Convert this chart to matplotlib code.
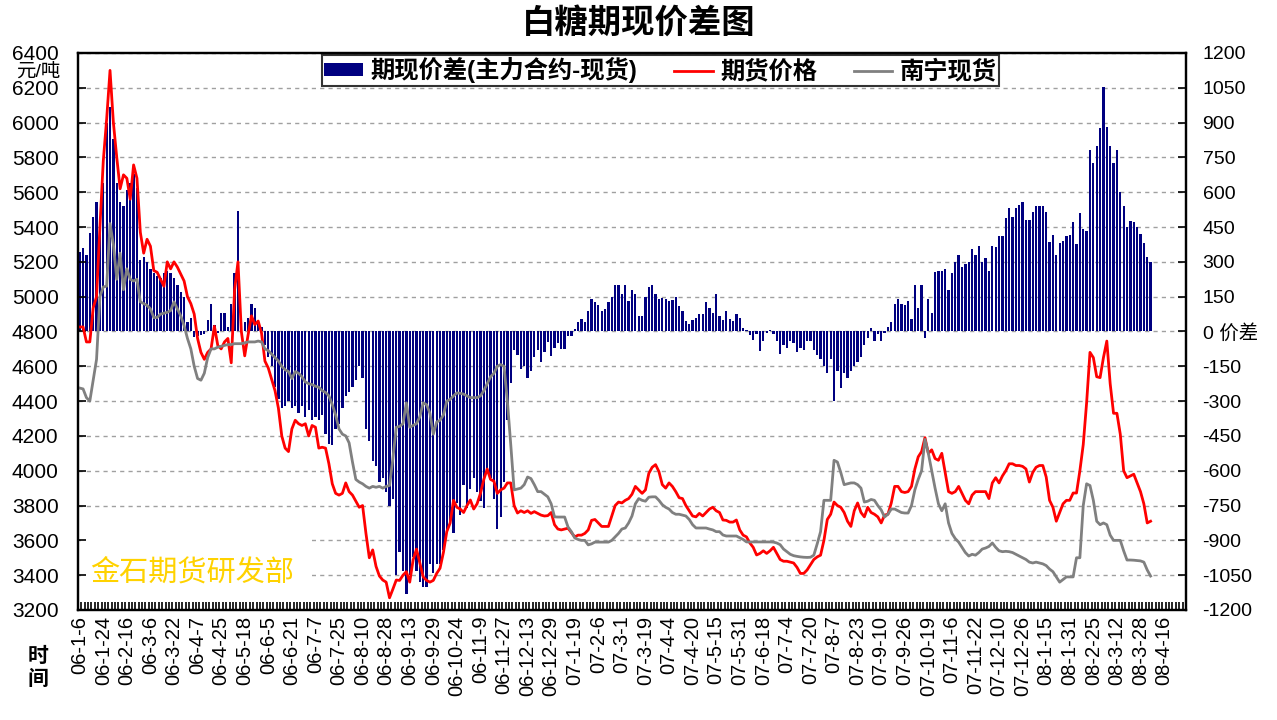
import matplotlib.pyplot as plt
from matplotlib.font_manager import FontProperties
from matplotlib.patches import Patch, Rectangle
from matplotlib.lines import Line2D

plt.rcParams['font.family'] = ['Liberation Sans', 'Noto Sans CJK SC']

# time axis: one label every 7 records
date_labels = ['06-1-6', '06-1-24', '06-2-16', '06-3-6', '06-3-22', '06-4-7', '06-4-25', '06-5-18',
               '06-6-5', '06-6-21', '06-7-7', '06-7-25', '06-8-10', '06-8-28', '06-9-13', '06-9-29',
               '06-10-24', '06-11-9', '06-11-27', '06-12-13', '06-12-29', '07-1-19', '07-2-6', '07-3-1',
               '07-3-19', '07-4-4', '07-4-20', '07-5-15', '07-5-31', '07-6-18', '07-7-4', '07-7-20',
               '07-8-7', '07-8-23', '07-9-10', '07-9-26', '07-10-19', '07-11-6', '07-11-22', '07-12-10',
               '07-12-26', '08-1-15', '08-1-31', '08-2-25', '08-3-12', '08-3-28', '08-4-16']
label_step = 7
n_slots = 329

# 期现价差 (主力合约 - 现货), right axis
spread = [343, 360, 330, 425, 493, 560, 450, 640, 900, 967,
          830, 640, 560, 540, 610, 640, 680, 620, 310, 320,
          300, 270, 250, 240, 230, 250, 260, 250, 230, 200,
          170, 150, 40, 60, -25, -20, -15, -10, 50, 120,
          30, -5, 80, 80, 20, 120, 250, 520, 10, 40,
          60, 120, 100, 40, 20, -60, -110, -150, -240, -290,
          -330, -320, -300, -330, -320, -350, -320, -370, -340, -380,
          -370, -380, -360, -440, -485, -490, -420, -400, -330, -280,
          -260, -240, -210, -150, -200, -420, -470, -560, -580, -650,
          -630, -690, -750, -720, -1050, -950, -1030, -1130, -1050, -970,
          -1030, -1080, -1100, -1100, -1000, -1040, -1000, -1000, -940, -860,
          -820, -870, -740, -790, -660, -760, -680, -630, -690, -730,
          -760, -610, -630, -720, -850, -800, -650, -380, -220, -80,
          -100, -160, -150, -200, -170, -110, -80, -133, -90, -45,
          -105, -70, -50, -75, -76, -20, -20, 10, 39, 53,
          40, 89, 140, 125, 115, 90, 95, 125, 150, 200,
          200, 160, 200, 130, 180, 160, 67, 67, 150, 190,
          200, 160, 140, 145, 140, 130, 135, 150, 110, 90,
          45, 32, 50, 60, 75, 75, 125, 100, 80, 160,
          65, 50, 90, 55, 45, 75, 60, 15, 5, -15,
          -35, -10, -83, -40, -5, 8, -12, -40, -98, -60,
          -70, -40, -50, -90, -70, -80, -40, -40, -80, -100,
          -120, -150, -180, -120, -300, -170, -245, -180, -200, -170,
          -150, -130, -110, -60, -30, 15, -40, -10, -40, -5,
          20, 40, 120, 140, 120, 115, 130, 55, 200, 100,
          200, -30, 140, 80, 255, 260, 260, 270, 180, 250,
          300, 330, 280, 290, 300, 355, 330, 370, 300, 315,
          260, 370, 365, 410, 410, 490, 530, 495, 530, 545,
          560, 480, 480, 515, 540, 540, 540, 515, 385, 415,
          330, 380, 390, 410, 415, 470, 375, 510, 440, 435,
          780, 724, 800, 875, 1055, 880, 800, 725, 780, 600,
          540, 450, 475, 470, 450, 420, 380, 320, 300]

# 期货价格, left axis
futures = [4826, 4826, 4740, 4740, 4935, 5000, 5400, 5780, 6020, 6300,
           6000, 5800, 5620, 5700, 5680, 5560, 5757, 5680, 5370, 5250,
           5330, 5290, 5150, 5140, 5100, 5060, 5200, 5160, 5200, 5170,
           5130, 5090, 5000, 4960, 4900, 4760, 4680, 4640, 4680, 4700,
           4830, 4720, 4700, 4740, 4760, 4620, 5040, 5200, 4800, 4660,
           4780, 4890, 4840, 4860, 4790, 4630, 4590, 4525, 4460, 4360,
           4200, 4130, 4110, 4240, 4290, 4270, 4260, 4270, 4200, 4260,
           4250, 4130, 4135, 4130, 4040, 3925, 3870, 3860, 3870, 3930,
           3880, 3860, 3825, 3790, 3800, 3640, 3500, 3545, 3450, 3395,
           3372, 3360, 3270, 3320, 3372, 3370, 3400, 3420, 3360, 3487,
           3550, 3470, 3390, 3370, 3360, 3370, 3410, 3440, 3530, 3650,
           3700, 3830, 3790, 3780, 3760, 3800, 3832, 3780, 3810, 3870,
           3950, 4010, 3950, 3940, 3870, 3890, 3900, 3930, 3930, 3800,
           3757, 3770, 3760, 3770, 3755, 3765, 3755, 3745, 3740, 3742,
           3760, 3690, 3665, 3660, 3665, 3670, 3645, 3620, 3630, 3630,
           3640, 3660, 3715, 3720, 3700, 3680, 3680, 3680, 3740, 3800,
           3820, 3815, 3830, 3840, 3865, 3910, 3890, 3870, 3890, 3985,
           4020, 4035, 3995, 3920, 3900, 3930, 3910, 3880, 3845, 3840,
           3800, 3770, 3740, 3735, 3755, 3740, 3760, 3780, 3790, 3770,
           3760, 3717, 3715, 3705, 3705, 3717, 3660, 3630, 3620, 3585,
           3560, 3516, 3525, 3540, 3525, 3540, 3560, 3525, 3490, 3480,
           3480, 3475, 3470, 3445, 3410, 3410, 3430, 3460, 3490, 3505,
           3515, 3600, 3720, 3750, 3820, 3800, 3790, 3760, 3710, 3680,
           3770, 3815, 3760, 3735, 3790, 3760, 3750, 3735, 3700, 3745,
           3750, 3815, 3910, 3910, 3880, 3875, 3880, 3910, 4010, 4080,
           4110, 4190, 4100, 4120, 4070, 4060, 4100, 3990, 3880, 3870,
           3880, 3910, 3870, 3830, 3810, 3860, 3880, 3880, 3880, 3880,
           3840, 3930, 3960, 3930, 3970, 4000, 4040, 4040, 4030, 4030,
           4025, 4010, 3935, 3990, 4020, 4030, 4030, 3964, 3830, 3790,
           3710, 3760, 3810, 3830, 3830, 3872, 3872, 4000, 4150, 4390,
           4680, 4650, 4540, 4535, 4650, 4745, 4500, 4330, 4330, 4210,
           4000, 3960, 3970, 3980, 3930, 3880, 3810, 3700, 3710]

# 南宁现货, left axis
spot = [4475, 4470, 4420, 4400, 4520, 4640, 5000, 5056, 5060, 5420,
        5300, 5100, 5250, 5040, 5160, 5100, 5090, 5100, 4970, 4960,
        4950, 4930, 4880, 4880, 4900, 4905, 4910, 4920, 4970, 4930,
        4890, 4834, 4760, 4700, 4600, 4530, 4520, 4560, 4650, 4700,
        4700, 4710, 4715, 4720, 4725, 4725, 4730, 4730, 4730, 4735,
        4740, 4740, 4740, 4745, 4740, 4700, 4690, 4670, 4650, 4630,
        4600, 4580, 4570, 4530, 4570, 4560, 4540, 4510, 4500, 4495,
        4485, 4480, 4460, 4450, 4430, 4380, 4320, 4240, 4210, 4200,
        4160, 4050, 3950, 3935, 3925, 3910, 3900, 3910, 3905, 3910,
        3900, 3910, 3915, 4070, 4250, 4255, 4270, 4390, 4250, 4260,
        4270, 4310, 4390, 4380, 4330, 4210, 4280, 4290, 4320, 4400,
        4410, 4430, 4447, 4445, 4440, 4430, 4420, 4420, 4420, 4430,
        4460, 4500, 4540, 4560, 4600, 4610, 4600, 4400, 4150, 3890,
        3895, 3900, 3920, 3964, 3955, 3920, 3880, 3880, 3865, 3850,
        3810, 3735, 3734, 3734, 3734, 3677, 3650, 3614, 3605, 3600,
        3600, 3574, 3580, 3590, 3590, 3590, 3590, 3590, 3600, 3620,
        3640, 3665, 3671, 3700, 3740, 3810, 3840, 3830, 3825, 3848,
        3850, 3850, 3830, 3805, 3790, 3780, 3760, 3750, 3750, 3745,
        3740, 3720, 3690, 3671, 3671, 3671, 3671, 3665, 3660, 3650,
        3650, 3631, 3625, 3625, 3625, 3625, 3615, 3605, 3591, 3591,
        3591, 3591, 3591, 3591, 3591, 3591, 3590, 3585, 3575, 3550,
        3535, 3520, 3512, 3508, 3505, 3503, 3502, 3503, 3515, 3580,
        3650, 3830, 3830, 3830, 4060, 4050, 3990, 3920, 3925, 3930,
        3930, 3920, 3900, 3820, 3825, 3835, 3830, 3800, 3775, 3734,
        3750, 3780, 3780, 3770, 3760, 3757, 3757, 3800, 3890, 3950,
        4000, 4180, 4100, 4000, 3900, 3810, 3770, 3810, 3700, 3640,
        3610, 3590, 3560, 3530, 3510, 3520, 3515, 3530, 3550, 3556,
        3565, 3585, 3560, 3540, 3535, 3537, 3535, 3530, 3520, 3510,
        3500, 3490, 3475, 3470, 3475, 3470, 3465, 3455, 3435, 3420,
        3390, 3360, 3375, 3390, 3390, 3390, 3500, 3500, 3800, 3925,
        3915, 3830, 3710, 3690, 3700, 3690, 3630, 3600, 3600, 3600,
        3540, 3487, 3487, 3486, 3484, 3482, 3475, 3430, 3395]

left_ticks = list(range(3200, 6401, 200))
right_ticks = list(range(-1200, 1201, 150))

x = list(range(len(spread)))

fig = plt.figure(figsize=(12.77, 7.2), dpi=100)
ax2 = fig.add_axes([0.0611, 0.1528, 0.8676, 0.7736])   # bars, right scale (drawn behind)
ax = ax2.twinx()                                         # price lines, left scale
ax.yaxis.tick_left()
ax2.yaxis.tick_right()
ax.set_zorder(ax2.get_zorder() + 1)
ax.patch.set_visible(False)

# spread bars
ax2.bar(x, spread, width=0.68, color='#000080', zorder=2.2)
ax2.set_ylim(-1200, 1200)
ax2.set_yticks(right_ticks)
ax2.set_yticklabels(['0 价差' if v == 0 else str(v) for v in right_ticks], fontsize=14)
ax2.grid(axis='y', color='#A0A0A0', linestyle=(0, (3, 3)), linewidth=1.0)
ax2.set_axisbelow(True)

# price lines
ax.plot(x, futures, color='#FF0000', linewidth=2.0)
ax.plot(x, spot, color='#808080', linewidth=2.0)
ax.set_ylim(3200, 6400)
ax.set_yticks(left_ticks)
ax.set_yticklabels([str(v) for v in left_ticks], fontsize=15)

# category axis
ax2.set_xlim(-0.5, n_slots - 0.5)
ax2.set_xticks([i * label_step for i in range(len(date_labels))])
ax2.set_xticklabels(date_labels, rotation=90, fontsize=14.5, va='top')
ax2.set_xticks([i - 0.5 for i in range(n_slots + 1)], minor=True)
ax2.tick_params(axis='x', which='major', length=0, pad=4)
ax2.tick_params(axis='x', which='minor', direction='in', length=6, width=1.2, color='black')
ax.tick_params(axis='y', direction='in', length=6, width=1.2, pad=14)
ax2.tick_params(axis='y', direction='in', length=6, width=1.2, pad=12)

for a in (ax, ax2):
    for s in a.spines.values():
        s.set_linewidth(1.6)
        s.set_color('black')

# watermark on a white panel that hides the grid behind it
ax2.add_patch(Rectangle((0.003, 0.017), 0.208, 0.118, transform=ax2.transAxes,
                        facecolor='white', edgecolor='none', zorder=1.8))
ax2.text(0.103, 0.068, '金石期货研发部', transform=ax2.transAxes, fontsize=21,
         color='#FFD200', ha='center', va='center', zorder=1.9)

# legend
handles = [Patch(facecolor='#000080', edgecolor='none'),
           Line2D([0], [0], color='#FF0000', linewidth=2.0),
           Line2D([0], [0], color='#808080', linewidth=2.0)]
names = ['期现价差(主力合约-现货)', '期货价格', '南宁现货']
leg = ax.legend(handles, names, loc='upper left', bbox_to_anchor=(0.2202, 0.9964), ncol=3,
                prop=FontProperties(family=['Liberation Sans', 'Noto Sans CJK SC'], weight='bold', size=17.5),
                frameon=True, fancybox=False, edgecolor='black', borderpad=0.1,
                handlelength=1.6, handleheight=0.45, handletextpad=0.3, columnspacing=1.5,
                borderaxespad=0)
leg.get_frame().set_linewidth(1.5)

# title and axis captions
fig.text(0.5, 1 - 24 / 720, '白糖期现价差图', fontsize=24, fontweight='bold', ha='center', va='center')
fig.text(38 / 1277, 1 - 72 / 720, '元/吨', fontsize=14, ha='center', va='center')
fig.text(38 / 1277, 1 - 668 / 720, '时\n间', fontsize=15, fontweight='bold', ha='center', va='center',
         linespacing=1.25)

fig.savefig('out.png', dpi=100)
